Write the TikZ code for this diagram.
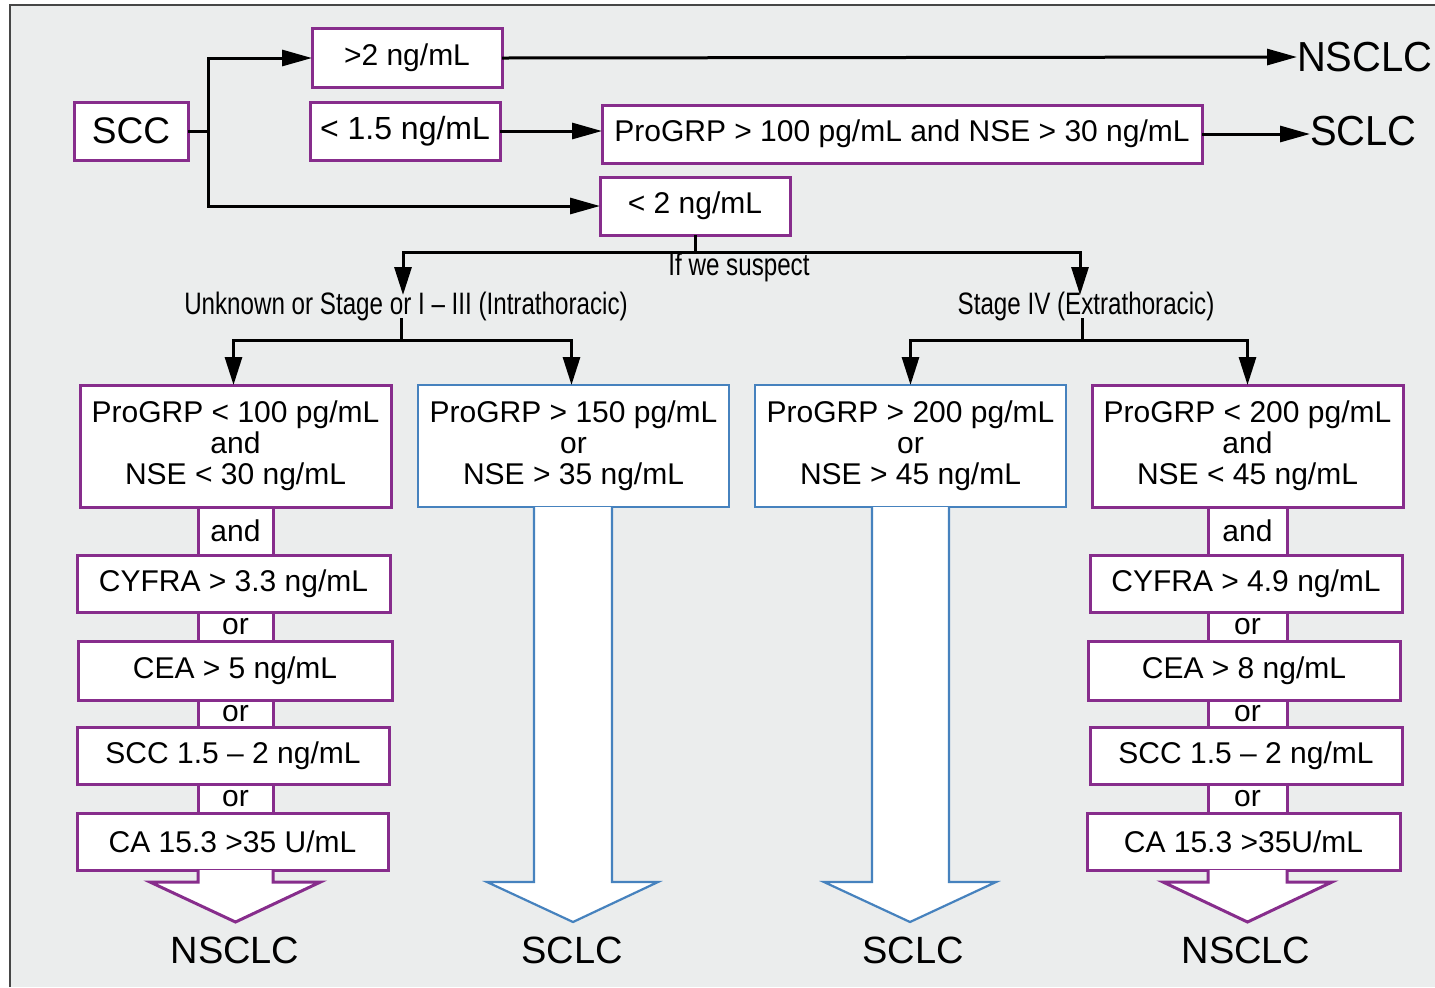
\documentclass[tikz,border=0pt]{standalone}
\usepackage{fontspec}
\setmainfont{Liberation Sans}
\newfontfamily\condf[FakeStretch=0.78]{Liberation Sans}
\newfontfamily\semif[FakeStretch=0.95]{Liberation Sans}
\usetikzlibrary{arrows.meta,calc}
\definecolor{purp}{RGB}{135,45,140}
\definecolor{bluL}{RGB}{70,130,190}
\definecolor{bgc}{RGB}{235,237,237}
\definecolor{frame}{RGB}{70,70,70}
\begin{document}
\begin{tikzpicture}[x=0.5pt,y=-0.5pt,
  every node/.style={inner sep=0pt, outer sep=0pt, font=\fontsize{15}{15.5}\selectfont, align=center},
  pbox/.style={draw=purp, fill=white, line width=1.5pt},
  bbox/.style={draw=bluL, fill=white, line width=1.1pt},
  conn/.style={draw=purp, fill=white, line width=1.5pt},
  arr/.style={-{Triangle[length=15pt,width=8pt]}, line width=1.5pt},
  darr/.style={-{Triangle[length=14pt,width=8.5pt]}, line width=1.5pt},
  ln/.style={line width=1.5pt},
  lbl/.style={font=\condf\fontsize{15.5}{15.5}\selectfont},
  outc/.style={font=\fontsize{19}{19}\selectfont},
  outs/.style={font=\semif\fontsize{21}{21}\selectfont},
  hollowp/.style={draw=purp, fill=white, line width=1.5pt, line join=miter},
  hollowb/.style={draw=bluL, fill=white, line width=1.1pt, line join=miter},
]
\useasboundingbox (0,0) rectangle (1435,987);
\fill[white] (0,0) rectangle (1435,987);
\fill[bgc] (10,5) rectangle (1435,987);
\draw[frame, line width=1pt] (10,987) -- (10,5) -- (1435,5);

% ---- top part ----
\node[pbox, minimum width=57pt, minimum height=29pt, font=\fontsize{18.5}{18.5}\selectfont] (scc) at (131,131) {SCC};
\node[pbox, minimum width=95pt, minimum height=29.5pt] (gt2) at (407,58) {>2 ng/mL};
\node[pbox, minimum width=95pt, minimum height=29pt, font=\fontsize{16}{16}\selectfont] (lt15) at (405,131) {< 1.5 ng/mL};
\node[pbox, minimum width=300pt, minimum height=29pt] (prog) at (902,134) {ProGRP > 100 pg/mL and NSE > 30 ng/mL};
\node[pbox, minimum width=95pt, minimum height=29pt] (lt2) at (695,206) {< 2 ng/mL};
\node[outs, anchor=west] (nsclcT) at (1297,57) {NSCLC};
\node[outs, anchor=west] (sclcT) at (1310,131) {SCLC};

\coordinate (j) at (208,131);
\draw[ln] (scc.east) -- (j);
\draw[arr] (j) |- (gt2.west);
\draw[arr] (j) |- (lt2.west);
\draw[arr] (gt2.east) -- (nsclcT.west);
\draw[arr] (lt15.east) -- (lt15.east -| prog.west);
\draw[arr] (prog.east) -- (prog.east -| sclcT.west);

% ---- branching ----
\node[lbl] (susp) at (739,267) {If we suspect};
\node[lbl] (unk) at (406,306) {Unknown or Stage or I – III (Intrathoracic)};
\node[lbl] (st4) at (1086,306) {Stage IV (Extrathoracic)};

\coordinate (bar1) at (695,252);
\coordinate (unkin) at (403,295);
\coordinate (st4in) at (1080,295);
\draw[ln] (lt2.south) -- (bar1);
\draw[darr] (bar1) -| (unkin);
\draw[darr] (bar1) -| (st4in);

% ---- second row boxes ----
\node[pbox, minimum width=155.5pt, minimum height=61pt] (L1) at (235.5,446) {ProGRP < 100 pg/mL\\and\\NSE < 30 ng/mL};
\node[bbox, minimum width=155.5pt, minimum height=61pt] (L2) at (573.5,446) {ProGRP > 150 pg/mL\\or\\NSE > 35 ng/mL};
\node[bbox, minimum width=155.5pt, minimum height=61pt] (R1) at (910.5,446) {ProGRP > 200 pg/mL\\or\\NSE > 45 ng/mL};
\node[pbox, minimum width=155.5pt, minimum height=61pt] (R2) at (1247.5,446) {ProGRP < 200 pg/mL\\and\\NSE < 45 ng/mL};

\coordinate (unkout) at (401,318);
\coordinate (bar2) at (401,340);
\draw[ln] (unkout) -- (bar2);
\draw[darr] (bar2) -| ($(L1.north)+(-2,0)$);
\draw[darr] (bar2) -| ($(L2.north)+(-2,0)$);
\coordinate (st4out) at (1082,318);
\coordinate (bar3) at (1082,340);
\draw[ln] (st4out) -- (bar3);
\draw[darr] (bar3) -| (R1.north);
\draw[darr] (bar3) -| (R2.north);

% ---- left stack ----
\node[conn, minimum width=37.5pt, minimum height=24pt] (land) at (235.5,531) {and};
\node[conn, minimum width=37.5pt, minimum height=14.5pt] (lor1) at (235.5,626.5) {or};
\node[conn, minimum width=37.5pt, minimum height=13.5pt] (lor2) at (235.5,713.5) {or};
\node[conn, minimum width=37.5pt, minimum height=14.5pt] (lor3) at (235.5,798.5) {or};
\node[pbox, minimum width=156.5pt, minimum height=28.5pt] (lcyf) at (233.5,583.5) {CYFRA > 3.3 ng/mL};
\node[pbox, minimum width=157pt, minimum height=29.5pt] (lcea) at (235,670.5) {CEA > 5 ng/mL};
\node[pbox, minimum width=156pt, minimum height=28.5pt] (lscc) at (233,755.5) {SCC 1.5 – 2 ng/mL};
\node[pbox, minimum width=155.5pt, minimum height=28.5pt] (lca) at (232.5,841.5) {CA 15.3 >35 U/mL};

% ---- right stack ----
\node[conn, minimum width=39.5pt, minimum height=24pt] (rand) at (1247.5,531) {and};
\node[conn, minimum width=39.5pt, minimum height=14.5pt] (ror1) at (1247.5,626.5) {or};
\node[conn, minimum width=39.5pt, minimum height=13.5pt] (ror2) at (1247.5,713.5) {or};
\node[conn, minimum width=39.5pt, minimum height=14.5pt] (ror3) at (1247.5,798.5) {or};
\node[pbox, minimum width=156pt, minimum height=28.5pt] (rcyf) at (1246,583.5) {CYFRA > 4.9 ng/mL};
\node[pbox, minimum width=156pt, minimum height=29.5pt] (rcea) at (1244,670.5) {CEA > 8 ng/mL};
\node[pbox, minimum width=156pt, minimum height=28.5pt] (rscc) at (1246,755.5) {SCC 1.5 – 2 ng/mL};
\node[pbox, minimum width=156.5pt, minimum height=28.5pt] (rca) at (1243.5,841.5) {CA 15.3 >35U/mL};

% ---- hollow arrows ----
\draw[hollowp] ($(land.center |- lca.south)+(-37.5,0)$) -- ++(0,12) -- ++(-48,0) -- ($(land.center |- lca.south)+(0,52)$)
  -- ($(land.center |- lca.south)+(85,12)$) -- ++(-47.5,0) -- ++(0,-12);
\draw[hollowp] ($(rand.center |- rca.south)+(-39.5,0)$) -- ++(0,12) -- ++(-45,0) -- ($(rand.center |- rca.south)+(0,52)$)
  -- ($(rand.center |- rca.south)+(84.5,12)$) -- ++(-45,0) -- ++(0,-12);
\draw[hollowb] ($(L2.south)+(-39.5,0)$) -- ++(0,375) -- ++(-47,0) -- ($(L2.south)+(-0.5,415)$)
  -- ($(L2.south)+(84.5,375)$) -- ++(-46,0) -- ++(0,-375);
\draw[hollowb] ($(R1.south)+(-38.5,0)$) -- ++(0,375) -- ++(-48,0) -- ($(R1.south)+(-0.5,415)$)
  -- ($(R1.south)+(85.5,375)$) -- ++(-47,0) -- ++(0,-375);

% ---- outcomes ----
\node[outc] (o1) at (235,950) {NSCLC};
\node[outc] (o2) at (572,950) {SCLC};
\node[outc] (o3) at (913,950) {SCLC};
\node[outc] (o4) at (1246,950) {NSCLC};
\end{tikzpicture}
\end{document}
